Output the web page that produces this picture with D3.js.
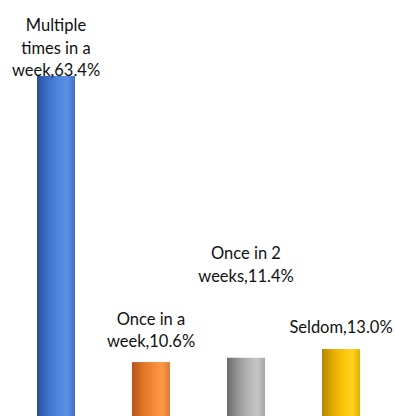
<!DOCTYPE html>
<html>
<head>
<meta charset="utf-8">
<script src="https://cdn.jsdelivr.net/npm/d3@7"></script>
<style>
  body { margin: 0; background: #fff; overflow: hidden; }
  text { font-family: Lato, "Noto Sans", sans-serif; font-size: 16.5px; fill: #111; }
</style>
</head>
<body>
<svg id="main-svg" width="395" height="416"></svg>
<script>
'use strict';

// chart data
const categories = ['Multiple times in a week', 'Once in a week', 'Once in 2 weeks', 'Seldom'];
const values = [63.4, 10.6, 11.4, 13.0];
const label_lines = [
    ['Multiple', 'times in a', 'week,63.4%'],
    ['Once in a', 'week,10.6%'],
    ['Once in 2', 'weeks,11.4%'],
    ['Seldom,13.0%'],
];

const palette = [
    ['#284f98', '#3f72cc', '#5189e0', '#5a8fe6', '#3f6fc2'],
    ['#b9531a', '#e07628', '#f88b3a', '#ff9848', '#dd7a30'],
    ['#6a6a6a', '#999999', '#b8b8b8', '#c6c6c6', '#a4a4a4'],
    ['#b58800', '#e6ac00', '#ffc60a', '#ffd21e', '#e2b000'],
];

const svg = d3.select('#main-svg');

const x = d3.scaleBand()
    .domain(categories)
    .range([8.5, 388.5])
    .paddingInner(0.6)
    .paddingOuter(0.3);

const y = d3.scaleLinear()
    .domain([0, 63.4])
    .range([419.5, 76]);

// cylinder-like horizontal gradients
const defs = svg.append('defs');
palette.forEach((stops, i) => {
    const g = defs.append('linearGradient')
        .attr('id', `grad-${i}`)
        .attr('x1', '0%').attr('x2', '100%')
        .attr('y1', '0%').attr('y2', '0%');
    const offs = [0, 0.3, 0.6, 0.8, 1];
    stops.forEach((c, j) => {
        g.append('stop').attr('offset', offs[j]).attr('stop-color', c);
    });
});

const data = categories.map((c, i) => ({cat: c, val: values[i], lines: label_lines[i], idx: i}));

svg.selectAll('rect.bar')
    .data(data)
    .enter().append('rect')
    .attr('class', 'bar')
    .attr('x', d => x(d.cat))
    .attr('y', d => y(d.val))
    .attr('width', x.bandwidth())
    .attr('height', d => y(0) - y(d.val))
    .attr('fill', d => `url(#grad-${d.idx})`);

// data labels, gap above bar top; first bar pinned to chart top, third lifted
const line_h = 22.5;
const label_lift = [ 0, 15, 76, 16 ];

svg.selectAll('text.lbl')
    .data(data)
    .enter().append('text')
    .attr('class', 'lbl')
    .attr('text-anchor', 'middle')
    .each(function(d) {
        const t = d3.select(this);
        const cx = x(d.cat) + x.bandwidth() / 2;
        const last = y(d.val) - label_lift[d.idx];
        const n = d.lines.length;
        d.lines.forEach((ln, k) => {
            t.append('tspan')
                .attr('x', cx)
                .attr('y', last - (n - 1 - k) * line_h)
                .text(ln);
        });
    });
</script>
</body>
</html>
